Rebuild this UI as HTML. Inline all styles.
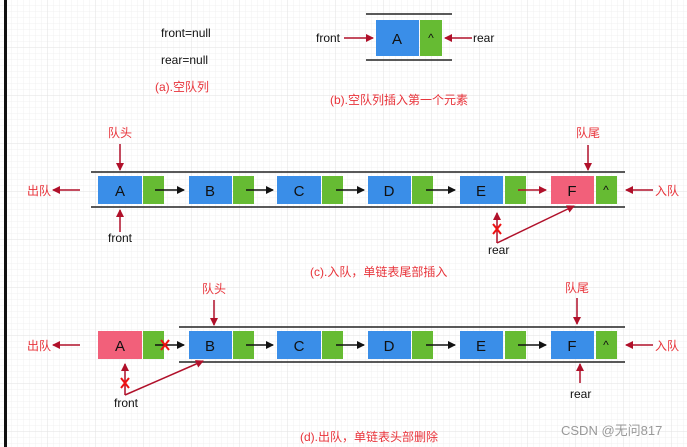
<!DOCTYPE html>
<html><head><meta charset="utf-8"><style>
html,body{margin:0;padding:0;width:687px;height:447px;overflow:hidden;background:#fff}
svg text{font-family:"Liberation Sans","Noto Sans CJK SC",sans-serif}
</style></head><body>
<svg width="687" height="447" viewBox="0 0 687 447" xmlns="http://www.w3.org/2000/svg">
<defs>
<pattern id="g" width="6" height="6" patternUnits="userSpaceOnUse"><path d="M6 0V6H0" fill="none" stroke="#f0f0f0" stroke-width="1"/></pattern>
<pattern id="G" width="48" height="48" patternUnits="userSpaceOnUse"><rect width="48" height="48" fill="url(#g)"/><path d="M48 0V48H0" fill="none" stroke="#e2e2e2" stroke-width="1"/></pattern>
<marker id="ab" markerWidth="8" markerHeight="8" refX="7" refY="4" orient="auto" markerUnits="userSpaceOnUse"><path d="M0,0L8,4L0,8z" fill="#111"/></marker>
<marker id="ar" markerWidth="8" markerHeight="8" refX="7" refY="4" orient="auto" markerUnits="userSpaceOnUse"><path d="M0,0L8,4L0,8z" fill="#b0102a"/></marker>
</defs>
<rect width="687" height="447" fill="url(#G)"/>
<rect x="4" y="0" width="3" height="447" fill="#111"/>

<!-- (a) -->
<text x="161" y="37" font-size="12" fill="#111">front=null</text>
<text x="161" y="64" font-size="12" fill="#111">rear=null</text>
<text x="155" y="91" font-size="12" fill="#e8333a">(a).空队列</text>

<!-- (b) -->
<line x1="366" y1="14" x2="452" y2="14" stroke="#222" stroke-width="1.5"/>
<line x1="366" y1="60" x2="452" y2="60" stroke="#222" stroke-width="1.5"/>
<rect x="376" y="20" width="43" height="36" fill="#3a8ee8"/>
<rect x="420" y="20" width="22" height="36" fill="#66bb33"/>
<text x="397" y="44" font-size="15" text-anchor="middle" fill="#111">A</text>
<text x="431" y="42" font-size="12" text-anchor="middle" fill="#111">^</text>
<text x="316" y="42" font-size="12" fill="#111">front</text>
<line x1="344" y1="38" x2="373" y2="38" stroke="#b0102a" stroke-width="1.5" marker-end="url(#ar)"/>
<text x="473" y="42" font-size="12" fill="#111">rear</text>
<line x1="472" y1="38" x2="445" y2="38" stroke="#b0102a" stroke-width="1.5" marker-end="url(#ar)"/>
<text x="330" y="104" font-size="12" fill="#e8333a">(b).空队列插入第一个元素</text>

<!-- (c) -->
<line x1="91" y1="172" x2="625" y2="172" stroke="#222" stroke-width="1.5"/>
<line x1="91" y1="207" x2="625" y2="207" stroke="#222" stroke-width="1.5"/>
<g font-size="15" text-anchor="middle" fill="#111">
<rect x="98" y="176" width="44" height="28" fill="#3a8ee8"/><rect x="143" y="176" width="21" height="28" fill="#66bb33"/><text x="120" y="196">A</text>
<rect x="189" y="176" width="43" height="28" fill="#3a8ee8"/><rect x="233" y="176" width="21" height="28" fill="#66bb33"/><text x="210" y="196">B</text>
<rect x="277" y="176" width="44" height="28" fill="#3a8ee8"/><rect x="322" y="176" width="21" height="28" fill="#66bb33"/><text x="299" y="196">C</text>
<rect x="368" y="176" width="43" height="28" fill="#3a8ee8"/><rect x="412" y="176" width="21" height="28" fill="#66bb33"/><text x="389" y="196">D</text>
<rect x="460" y="176" width="43" height="28" fill="#3a8ee8"/><rect x="505" y="176" width="21" height="28" fill="#66bb33"/><text x="481" y="196">E</text>
<rect x="551" y="176" width="43" height="28" fill="#f2607a"/><rect x="596" y="176" width="21" height="28" fill="#66bb33"/><text x="572" y="196">F</text>
<text x="606" y="194" font-size="12">^</text>
</g>
<g stroke="#111" stroke-width="1.5">
<line x1="155" y1="190" x2="184" y2="190" marker-end="url(#ab)"/>
<line x1="246" y1="190" x2="273" y2="190" marker-end="url(#ab)"/>
<line x1="336" y1="190" x2="364" y2="190" marker-end="url(#ab)"/>
<line x1="426" y1="190" x2="455" y2="190" marker-end="url(#ab)"/>
</g>
<g stroke="#b0102a" stroke-width="1.5">
<line x1="518" y1="190" x2="546" y2="190" marker-end="url(#ar)"/>
<line x1="120" y1="144" x2="120" y2="170" marker-end="url(#ar)"/>
<line x1="120" y1="232" x2="120" y2="210" marker-end="url(#ar)"/>
<line x1="80" y1="190" x2="53" y2="190" marker-end="url(#ar)"/>
<line x1="588" y1="145" x2="588" y2="170" marker-end="url(#ar)"/>
<line x1="653" y1="190" x2="626" y2="190" marker-end="url(#ar)"/>
<line x1="497" y1="243" x2="497" y2="213" marker-end="url(#ar)"/>
<line x1="497" y1="243" x2="574" y2="206" marker-end="url(#ar)"/>
</g>
<path d="M493 224L501 234M501 224L493 234" stroke="#ee1111" stroke-width="2"/>
<text x="108" y="137" font-size="12" fill="#e8333a">队头</text>
<text x="27" y="195" font-size="12" fill="#e8333a">出队</text>
<text x="108" y="242" font-size="12" fill="#111">front</text>
<text x="576" y="137" font-size="12" fill="#e8333a">队尾</text>
<text x="655" y="195" font-size="12" fill="#e8333a">入队</text>
<text x="488" y="254" font-size="12" fill="#111">rear</text>
<text x="310" y="276" font-size="12" fill="#e8333a">(c).入队，单链表尾部插入</text>

<!-- (d) -->
<line x1="179" y1="327" x2="625" y2="327" stroke="#222" stroke-width="1.5"/>
<line x1="179" y1="362" x2="625" y2="362" stroke="#222" stroke-width="1.5"/>
<g font-size="15" text-anchor="middle" fill="#111">
<rect x="98" y="331" width="44" height="28" fill="#f2607a"/><rect x="143" y="331" width="21" height="28" fill="#66bb33"/><text x="120" y="351">A</text>
<rect x="189" y="331" width="43" height="28" fill="#3a8ee8"/><rect x="233" y="331" width="21" height="28" fill="#66bb33"/><text x="210" y="351">B</text>
<rect x="277" y="331" width="44" height="28" fill="#3a8ee8"/><rect x="322" y="331" width="21" height="28" fill="#66bb33"/><text x="299" y="351">C</text>
<rect x="368" y="331" width="43" height="28" fill="#3a8ee8"/><rect x="412" y="331" width="21" height="28" fill="#66bb33"/><text x="389" y="351">D</text>
<rect x="460" y="331" width="43" height="28" fill="#3a8ee8"/><rect x="505" y="331" width="21" height="28" fill="#66bb33"/><text x="481" y="351">E</text>
<rect x="551" y="331" width="43" height="28" fill="#3a8ee8"/><rect x="596" y="331" width="21" height="28" fill="#66bb33"/><text x="572" y="351">F</text>
<text x="606" y="349" font-size="12">^</text>
</g>
<g stroke="#111" stroke-width="1.5">
<line x1="155" y1="345" x2="184" y2="345" marker-end="url(#ab)"/>
<line x1="246" y1="345" x2="273" y2="345" marker-end="url(#ab)"/>
<line x1="336" y1="345" x2="364" y2="345" marker-end="url(#ab)"/>
<line x1="426" y1="345" x2="455" y2="345" marker-end="url(#ab)"/>
<line x1="518" y1="345" x2="546" y2="345" marker-end="url(#ab)"/>
</g>
<path d="M161 340L169 350M169 340L161 350" stroke="#ee1111" stroke-width="2"/>
<g stroke="#b0102a" stroke-width="1.5">
<line x1="214" y1="300" x2="214" y2="325" marker-end="url(#ar)"/>
<line x1="80" y1="345" x2="53" y2="345" marker-end="url(#ar)"/>
<line x1="577" y1="298" x2="577" y2="324" marker-end="url(#ar)"/>
<line x1="653" y1="345" x2="626" y2="345" marker-end="url(#ar)"/>
<line x1="580" y1="383" x2="580" y2="364" marker-end="url(#ar)"/>
<line x1="125" y1="395" x2="125" y2="364" marker-end="url(#ar)"/>
<line x1="125" y1="395" x2="203" y2="361" marker-end="url(#ar)"/>
</g>
<path d="M121 378L129 388M129 378L121 388" stroke="#ee1111" stroke-width="2"/>
<text x="202" y="293" font-size="12" fill="#e8333a">队头</text>
<text x="27" y="350" font-size="12" fill="#e8333a">出队</text>
<text x="114" y="407" font-size="12" fill="#111">front</text>
<text x="565" y="292" font-size="12" fill="#e8333a">队尾</text>
<text x="655" y="350" font-size="12" fill="#e8333a">入队</text>
<text x="570" y="398" font-size="12" fill="#111">rear</text>
<text x="300" y="441" font-size="12" fill="#e8333a">(d).出队，单链表头部删除</text>
<text x="561" y="435" font-size="13" fill="#999">CSDN @无问817</text>
</svg>
</body></html>
